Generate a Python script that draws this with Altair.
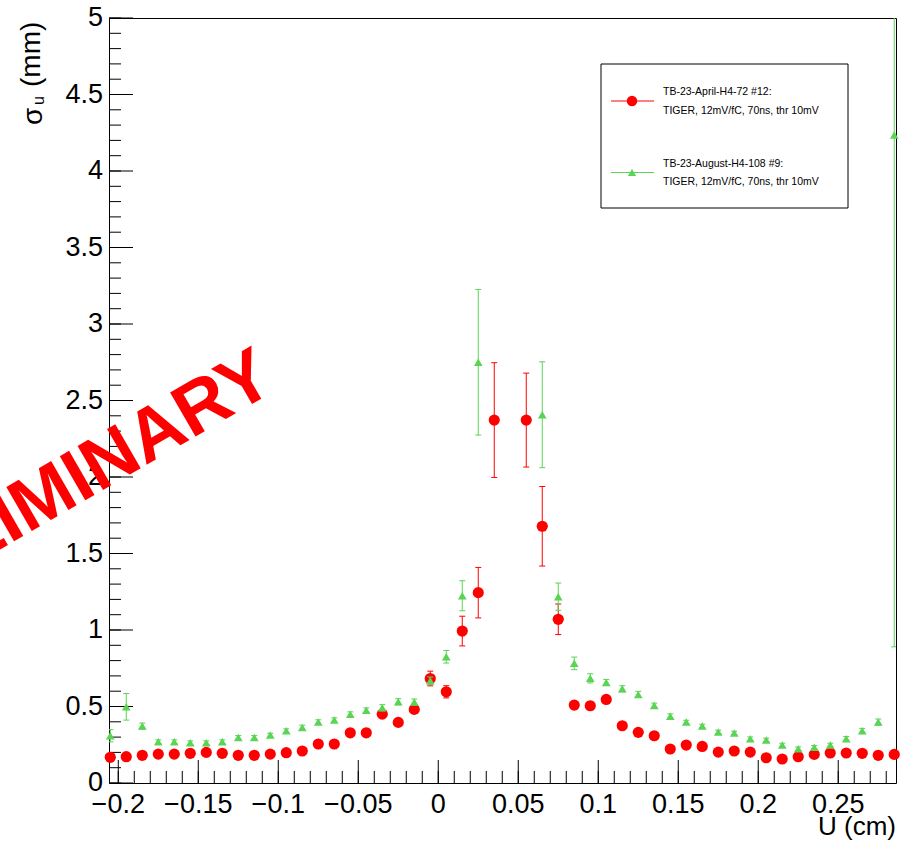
import altair as alt
import pandas as pd

# ---------------- data ----------------
U = [-0.205, -0.195, -0.185, -0.175, -0.165, -0.155, -0.145, -0.135, -0.125, -0.115,
     -0.105, -0.095, -0.085, -0.075, -0.065, -0.055, -0.045, -0.035, -0.025, -0.015,
     -0.005, 0.005, 0.015, 0.025, 0.035, 0.045, 0.055, 0.065, 0.075, 0.085,
     0.095, 0.105, 0.115, 0.125, 0.135, 0.145, 0.155, 0.165, 0.175, 0.185,
     0.195, 0.205, 0.215, 0.225, 0.235, 0.245, 0.255, 0.265, 0.275, 0.285]

RED_SIGMA = [0.168, 0.172, 0.181, 0.189, 0.189, 0.194, 0.200, 0.194, 0.181, 0.181,
             0.189, 0.198, 0.209, 0.255, 0.255, 0.328, 0.328, 0.450, 0.396, 0.481,
             0.683, 0.596, 0.993, 1.244, 2.372, None, 2.372, 1.678, 1.070, 0.509,
             0.505, 0.546, 0.374, 0.331, 0.309, 0.222, 0.248, 0.239, 0.202, 0.209,
             0.202, 0.165, 0.157, 0.172, 0.187, 0.196, 0.196, 0.194, 0.181, 0.187]
RED_ERR = [0.01, 0.01, 0.01, 0.01, 0.01, 0.01, 0.01, 0.01, 0.01, 0.01,
           0.01, 0.01, 0.01, 0.012, 0.012, 0.015, 0.015, 0.02, 0.02, 0.025,
           0.048, 0.04, 0.097, 0.165, 0.375, None, 0.307, 0.26, 0.10, 0.025,
           0.025, 0.025, 0.015, 0.015, 0.015, 0.01, 0.01, 0.01, 0.01, 0.01,
           0.01, 0.01, 0.01, 0.01, 0.01, 0.01, 0.01, 0.01, 0.01, 0.01]

GREEN_SIGMA = [0.309, 0.498, 0.372, 0.270, 0.270, 0.263, 0.263, 0.270, 0.298, 0.298,
               0.313, 0.342, 0.363, 0.398, 0.411, 0.450, 0.476, 0.492, 0.531, 0.529,
               0.668, 0.825, 1.224, 2.750, None, None, None, 2.407, 1.218, 0.782,
               0.684, 0.657, 0.616, 0.579, 0.507, 0.437, 0.398, 0.372, 0.333, 0.326,
               0.289, 0.281, 0.248, 0.224, 0.233, 0.248, 0.289, 0.342, 0.398, 4.235]
GREEN_ERR = [0.04, 0.087, 0.02, 0.012, 0.012, 0.012, 0.012, 0.012, 0.012, 0.012,
             0.012, 0.012, 0.015, 0.015, 0.015, 0.015, 0.015, 0.02, 0.02, 0.02,
             0.025, 0.041, 0.098, 0.476, None, None, None, 0.346, 0.089, 0.041,
             0.03, 0.02, 0.02, 0.02, 0.015, 0.015, 0.012, 0.012, 0.012, 0.012,
             0.012, 0.012, 0.012, 0.012, 0.012, 0.012, 0.015, 0.015, 0.02, 3.345]

X_MAJOR = [-0.2, -0.15, -0.1, -0.05, 0, 0.05, 0.1, 0.15, 0.2, 0.25]
Y_MAJOR = [0, 0.5, 1, 1.5, 2, 2.5, 3, 3.5, 4, 4.5, 5]
X_MINOR = [round(-0.2 + i * 0.01, 2) for i in range(49)]
Y_MINOR = [round(i * 0.1, 1) for i in range(51)]

LEGEND_RED = ["TB-23-April-H4-72 #12:", "TIGER, 12mV/fC, 70ns, thr 10mV"]
LEGEND_GREEN = ["TB-23-August-H4-108 #9:", "TIGER, 12mV/fC, 70ns, thr 10mV"]
X_TITLE = "U (cm)"
Y_TITLE_SYMBOL = "σ"
Y_TITLE_SUB = "u"
Y_TITLE_UNIT = "(mm)"
WATERMARK = "PRELIMINARY"

# ---------------- styling ----------------
W, H = 787, 765
XDOM = [-0.2058, 0.2861]
YDOM = [0, 5]
RED = "#ff0000"
GREEN = "#59d454"
FONT = "Liberation Sans"
LABEL_SIZE = 27

xs = alt.Scale(domain=XDOM, nice=False, zero=False)
ys = alt.Scale(domain=YDOM, nice=False, zero=False)


def series_df(sig, err):
    rows = [dict(u=u, s=s, lo=max(s - e, 0.0), hi=s + e)
            for u, s, e in zip(U, sig, err) if s is not None]
    return pd.DataFrame(rows)


def series_layers(df, color, shape, size):
    base = alt.Chart(df)
    X = alt.X("u:Q", scale=xs, axis=None)
    bar = base.mark_rule(color=color, strokeWidth=1, clip=True).encode(
        x=X, y=alt.Y("lo:Q", scale=ys, axis=None), y2="hi:Q")
    cap_lo = base.mark_rule(color=color, strokeWidth=1, clip=True, xOffset=-3, x2Offset=3).encode(
        x=X, x2="u:Q", y=alt.Y("lo:Q", scale=ys, axis=None))
    cap_hi = base.mark_rule(color=color, strokeWidth=1, clip=True, xOffset=-3, x2Offset=3).encode(
        x=X, x2="u:Q", y=alt.Y("hi:Q", scale=ys, axis=None))
    pts = base.mark_point(filled=True, shape=shape, size=size, color=color, opacity=1,
                          strokeWidth=0).encode(
        x=X, y=alt.Y("s:Q", scale=ys, axis=None))
    return [bar, cap_lo, cap_hi, pts]


df_red = series_df(RED_SIGMA, RED_ERR)
df_green = series_df(GREEN_SIGMA, GREEN_ERR)

# ticks (ROOT style, inside the frame)
x_minor = alt.Chart(pd.DataFrame({"v": X_MINOR})).mark_rule(color="black", strokeWidth=1).encode(
    x=alt.X("v:Q", scale=xs, axis=None), y=alt.value(H), y2=alt.value(H - 12))
x_major = alt.Chart(pd.DataFrame({"v": X_MAJOR})).mark_rule(color="black", strokeWidth=1).encode(
    x=alt.X("v:Q", scale=xs, axis=None), y=alt.value(H), y2=alt.value(H - 23))
y_minor = alt.Chart(pd.DataFrame({"v": Y_MINOR})).mark_rule(color="black", strokeWidth=1).encode(
    y=alt.Y("v:Q", scale=ys, axis=None), x=alt.value(0), x2=alt.value(12))
y_major = alt.Chart(pd.DataFrame({"v": Y_MAJOR})).mark_rule(color="black", strokeWidth=1).encode(
    y=alt.Y("v:Q", scale=ys, axis=None), x=alt.value(0), x2=alt.value(24))

# tick labels
x_labels = alt.Chart(pd.DataFrame({"v": X_MAJOR})).transform_calculate(
    lab="format(datum.v, '~g')").mark_text(
    font=FONT, fontSize=LABEL_SIZE, color="black", align="center", baseline="alphabetic").encode(
    x=alt.X("v:Q", scale=xs, axis=None), y=alt.value(H + 30), text="lab:N")
y_labels = alt.Chart(pd.DataFrame({"v": Y_MAJOR})).transform_calculate(
    lab="format(datum.v, '~g')").mark_text(
    font=FONT, fontSize=LABEL_SIZE, color="black", align="right", baseline="middle").encode(
    y=alt.Y("v:Q", scale=ys, axis=None), x=alt.value(-6), text="lab:N")


def text_layer(txt, x, y, size, **kw):
    return alt.Chart(pd.DataFrame({"t": [txt]})).mark_text(
        font=FONT, fontSize=size, color=kw.pop("color", "black"), **kw).encode(
        text="t:N", x=alt.value(x), y=alt.value(y))


# titles
x_title = text_layer(X_TITLE, W, 817, 26, align="right", baseline="alphabetic")
y_t1 = text_layer(Y_TITLE_SYMBOL, -67, 107, 28, angle=270, align="left", baseline="alphabetic")
y_t2 = text_layer(Y_TITLE_SUB, -65, 87, 16, angle=270, align="left", baseline="alphabetic")
y_t3 = text_layer(Y_TITLE_UNIT, -69, 69, 28, angle=270, align="left", baseline="alphabetic")

# watermark
mark_wm = text_layer(WATERMARK, 169, 371, 74, angle=330, align="right", baseline="alphabetic",
                     fontWeight="bold", color=RED)

# legend (drawn ROOT-style)
one = pd.DataFrame({"a": [0]})
leg_box = alt.Chart(one).mark_rect(fill="white", stroke="black", strokeWidth=1).encode(
    x=alt.value(492), x2=alt.value(739), y=alt.value(46), y2=alt.value(190))
leg_layers = [leg_box]
for lines, color, shape, size, ly in [(LEGEND_RED, RED, "circle", 110, 83),
                                      (LEGEND_GREEN, GREEN, "triangle-up", 70, 154.5)]:
    leg_layers.append(alt.Chart(one).mark_rule(color=color, strokeWidth=1).encode(
        x=alt.value(502), x2=alt.value(545), y=alt.value(ly)))
    leg_layers.append(alt.Chart(one).mark_point(filled=True, shape=shape, size=size, color=color,
                                                opacity=1, strokeWidth=0).encode(
        x=alt.value(523), y=alt.value(ly)))
    leg_layers.append(text_layer(lines[0], 554, ly - 9, 10.5, align="left", baseline="middle"))
    leg_layers.append(text_layer(lines[1], 554, ly + 9.5, 10.5, align="left", baseline="middle"))

layers = ([x_minor, x_major, y_minor, y_major, x_labels, y_labels]
          + series_layers(df_red, RED, "circle", 125)
          + series_layers(df_green, GREEN, "triangle-up", 75)
          + [mark_wm] + leg_layers + [x_title, y_t1, y_t2, y_t3])

chart = alt.layer(*layers).properties(
    width=W, height=H,
    autosize=alt.AutoSizeParams(type="none"),
    padding={"left": 109, "top": 18, "right": 9, "bottom": 70},
    background="white",
).configure_view(
    stroke="black", strokeWidth=1
)

chart.save("out.html", embed_options={"renderer": "svg", "actions": False})
